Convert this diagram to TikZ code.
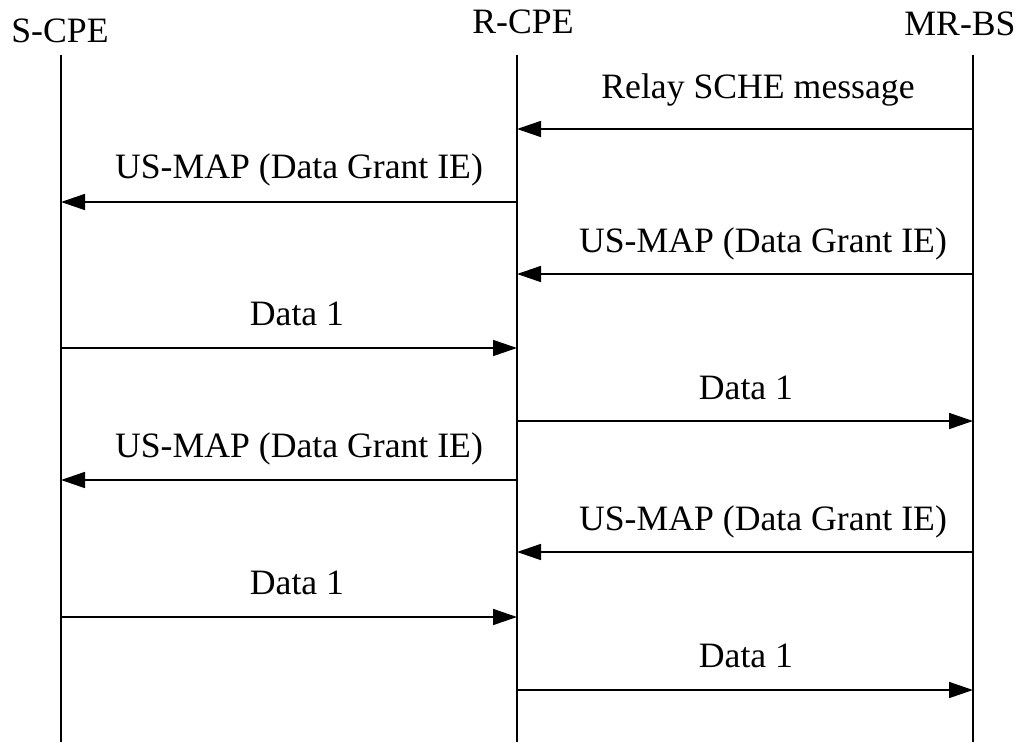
\documentclass[tikz,border=0pt]{standalone}
\usepackage{fontspec}
\setmainfont{Liberation Serif}
\usetikzlibrary{arrows.meta}
\begin{document}
\begin{tikzpicture}[x=1pt,y=-1pt,
  every node/.style={font=\fontsize{35.7}{40}\selectfont, inner sep=0pt},
  lifeline/.style={line width=1.6pt},
  msg/.style={line width=1.6pt, -{Triangle[length=24pt,width=16pt]}},
  lbl/.style={anchor=base}]
\useasboundingbox (0,0) rectangle (1021,742);

% participants
\node[lbl] (hS) at (60,42) {S-CPE};
\node[lbl] (hR) at (523,33) {R-CPE};
\node[lbl] (hM) at (960,35) {MR-BS};

% lifelines
\coordinate (sTop) at (61,55);  \coordinate (sBot) at (61,742);
\coordinate (rTop) at (517,55); \coordinate (rBot) at (517,742);
\coordinate (mTop) at (973,55); \coordinate (mBot) at (973,742);
\draw[lifeline] (sTop) -- (sBot);
\draw[lifeline] (rTop) -- (rBot);
\draw[lifeline] (mTop) -- (mBot);

% message end points on each lifeline
\foreach \i/\y in {1/129,2/202,3/274,4/348,5/421,6/480,7/552,8/617,9/690}{
  \coordinate (s\i) at (61,\y);
  \coordinate (r\i) at (517,\y);
  \coordinate (m\i) at (973,\y);
}

% messages
\draw[msg] (m1) -- (r1);
\node[lbl] (l1) at (758,98) {Relay SCHE message};

\draw[msg] (r2) -- (s2);
\node[lbl] (l2) at (299,178) {US-MAP (Data Grant IE)};

\draw[msg] (m3) -- (r3);
\node[lbl] (l3) at (763,252) {US-MAP (Data Grant IE)};

\draw[msg] (s4) -- (r4);
\node[lbl] (l4) at (297,325) {Data 1};

\draw[msg] (r5) -- (m5);
\node[lbl] (l5) at (746,399) {Data 1};

\draw[msg] (r6) -- (s6);
\node[lbl] (l6) at (299,457) {US-MAP (Data Grant IE)};

\draw[msg] (m7) -- (r7);
\node[lbl] (l7) at (763,530) {US-MAP (Data Grant IE)};

\draw[msg] (s8) -- (r8);
\node[lbl] (l8) at (297,594) {Data 1};

\draw[msg] (r9) -- (m9);
\node[lbl] (l9) at (746,667) {Data 1};
\end{tikzpicture}
\end{document}
